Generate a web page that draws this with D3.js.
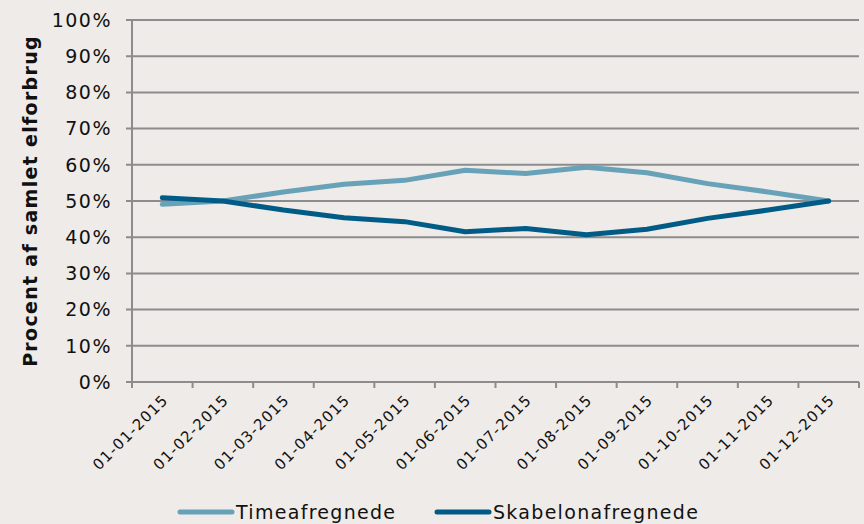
<!DOCTYPE html>
<html>
<head>
<meta charset="utf-8">
<script src="https://cdn.jsdelivr.net/npm/d3@7"></script>
<style>
  html, body { margin: 0; padding: 0; background: #eeebe8; }
  svg { display: block; font-family: "DejaVu Sans", Verdana, sans-serif; }
</style>
</head>
<body>
<div id="chart"></div>
<script>
const width = 864;
const height = 524;

const margin = ({top: 20, right: 5, bottom: 142, left: 132});

const months = ["01-01-2015", "01-02-2015", "01-03-2015", "01-04-2015", "01-05-2015", "01-06-2015",
  "01-07-2015", "01-08-2015", "01-09-2015", "01-10-2015", "01-11-2015", "01-12-2015"];
const timeValues = [49.1, 50.0, 52.5, 54.6, 55.7, 58.5, 57.6, 59.3, 57.8, 54.8, 52.5, 50.0];
const skabelonValues = [50.9, 50.0, 47.5, 45.4, 44.3, 41.5, 42.4, 40.7, 42.2, 45.2, 47.5, 50.0];
const yTicks = [0, 10, 20, 30, 40, 50, 60, 70, 80, 90, 100];

const series = [
  {name: "Timeafregnede", values: timeValues, color: "#67a2b9"},
  {name: "Skabelonafregnede", values: skabelonValues, color: "#005c86"}
];

const gridColor = "#8c8c8c";

const x = d3.scaleBand()
  .domain(months)
  .range([margin.left, width - margin.right]);

const y = d3.scaleLinear()
  .domain([0, 100])
  .range([height - margin.bottom, margin.top]);

const svg = d3.select("#chart")
  .append("svg")
  .attr("width", width)
  .attr("height", height)
  .attr("viewBox", [0, 0, width, height]);

// gridlines + y labels
const yAxis = svg.append("g");
yAxis.selectAll("line")
  .data(yTicks.slice(1))
  .join("line")
  .attr("x1", margin.left - 6)
  .attr("x2", width - margin.right)
  .attr("y1", d => y(d))
  .attr("y2", d => y(d))
  .attr("stroke", gridColor)
  .attr("stroke-width", 2);

yAxis.selectAll("text")
  .data(yTicks)
  .join("text")
  .attr("x", margin.left - 20)
  .attr("y", d => y(d))
  .attr("dy", "0.36em")
  .attr("text-anchor", "end")
  .attr("font-size", 19)
  .attr("letter-spacing", 1.5)
  .attr("fill", "#111")
  .text(d => d + "%");

// y axis line
svg.append("line")
  .attr("x1", margin.left).attr("x2", margin.left)
  .attr("y1", y(100)).attr("y2", y(0))
  .attr("stroke", gridColor).attr("stroke-width", 2);

// x axis
const xAxis = svg.append("g");
xAxis.append("line")
  .attr("x1", margin.left - 6).attr("x2", width - margin.right)
  .attr("y1", y(0)).attr("y2", y(0))
  .attr("stroke", gridColor).attr("stroke-width", 2);

xAxis.selectAll("line.tick")
  .data(months.concat(["end"]))
  .join("line")
  .attr("class", "tick")
  .attr("x1", (d, i) => margin.left + i * x.step())
  .attr("x2", (d, i) => margin.left + i * x.step())
  .attr("y1", y(0))
  .attr("y2", y(0) + 6)
  .attr("stroke", gridColor).attr("stroke-width", 2);

xAxis.selectAll("text")
  .data(months)
  .join("text")
  .attr("transform", d => `translate(${x(d) + x.bandwidth() / 2 + 3},${y(0) + 15}) rotate(-45)`)
  .attr("text-anchor", "end")
  .attr("dy", "0.36em")
  .attr("font-size", 15)
  .attr("letter-spacing", 1.2)
  .attr("fill", "#111")
  .text(d => d);

// y axis title
svg.append("text")
  .attr("transform", `translate(37,${(y(0) + y(100)) / 2}) rotate(-90)`)
  .attr("text-anchor", "middle")
  .attr("font-size", 19)
  .attr("font-weight", "bold")
  .attr("letter-spacing", 1.3)
  .attr("fill", "#111")
  .text("Procent af samlet elforbrug");

// lines
const line = d3.line()
  .x((d, i) => x(months[i]) + x.bandwidth() / 2)
  .y(d => y(d));

svg.append("g")
  .selectAll("path")
  .data(series)
  .join("path")
  .attr("fill", "none")
  .attr("stroke", d => d.color)
  .attr("stroke-width", 5)
  .attr("stroke-linejoin", "round")
  .attr("stroke-linecap", "round")
  .attr("d", d => line(d.values));

// legend
const legendX = [180, 437];
const legend = svg.append("g")
  .selectAll("g")
  .data(series)
  .join("g")
  .attr("transform", (d, i) => `translate(${legendX[i]},512)`);

legend.append("line")
  .attr("x1", 0).attr("x2", 52)
  .attr("stroke", d => d.color)
  .attr("stroke-width", 5)
  .attr("stroke-linecap", "round");

legend.append("text")
  .attr("x", 56)
  .attr("dy", "0.36em")
  .attr("font-size", 19)
  .attr("letter-spacing", 1.3)
  .attr("fill", "#111")
  .text(d => d.name);
</script>
</body>
</html>
